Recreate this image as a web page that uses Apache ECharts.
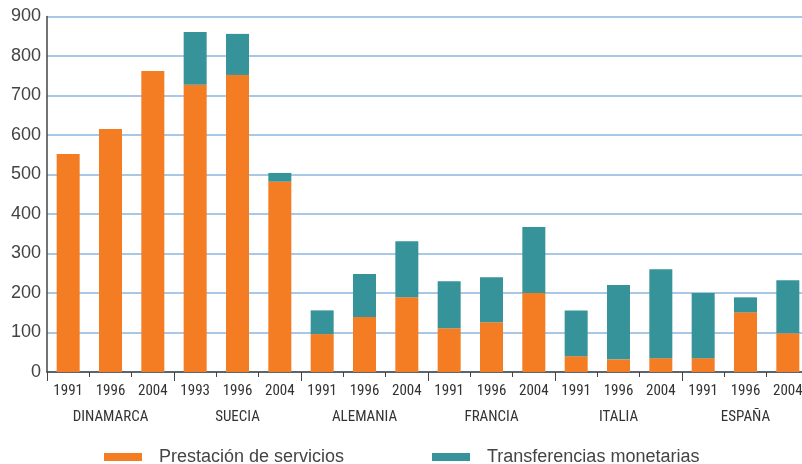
<!DOCTYPE html>
<html>
<head>
<meta charset="utf-8">
<script src="https://cdn.jsdelivr.net/npm/echarts@6/dist/echarts.min.js"></script>
<style>html,body{margin:0;padding:0;background:#fff;}#c{width:802px;height:464px;}</style>
</head>
<body>
<div id="c"></div>
<script>
var years = ['1991','1996','2004','1993','1996','2004','1991','1996','2004','1991','1996','2004','1991','1996','2004','1991','1996','2004'];
var countries = ['DINAMARCA','SUECIA','ALEMANIA','FRANCIA','ITALIA','ESPAÑA'];
var servicios = [552, 615, 762, 727, 752, 482, 96, 139, 189, 111, 126, 200, 40, 32, 35, 35, 151, 98];
var transferencias = [0, 0, 0, 134, 104, 22, 60, 109, 142, 119, 114, 167, 116, 188, 225, 165, 38, 134];
var yTicks = {min: 0, max: 900, interval: 100};
var seriesNames = ['Prestación de servicios', 'Transferencias monetarias'];

var narrow = "'Liberation Sans Narrow', 'Roboto Condensed', 'Liberation Sans', sans-serif";
var chart = echarts.init(document.getElementById('c'), null, {renderer: 'canvas'});
chart.setOption({
  animation: false,
  backgroundColor: '#ffffff',
  grid: {left: 47, right: -7, top: 16.5, bottom: 92, containLabel: false, outerBoundsMode: 'none'},
  legend: [
    {data: [seriesNames[0]], left: 104, top: 448, padding: 0, itemWidth: 38, itemHeight: 8, icon: 'rect',
     textStyle: {fontFamily: "'Liberation Sans', sans-serif", fontSize: 18, color: '#444', padding: [0,0,0,12]}},
    {data: [seriesNames[1]], left: 432, top: 448, padding: 0, itemWidth: 38, itemHeight: 8, icon: 'rect',
     textStyle: {fontFamily: "'Liberation Sans', sans-serif", fontSize: 18, color: '#444', padding: [0,0,0,12]}}
  ],
  xAxis: [
    {type: 'category', data: years, position: 'bottom',
     axisLine: {show: true, lineStyle: {color: '#444', width: 1.5}},
     axisTick: {show: true, length: 5, lineStyle: {color: '#444', width: 1}},
     axisLabel: {margin: 12, fontFamily: narrow, fontSize: 15, color: '#333', interval: 0},
     splitLine: {show: false}},
    {type: 'category', data: countries, position: 'bottom',
     axisLine: {show: false},
     axisTick: {show: true, length: 9, lineStyle: {color: '#444', width: 1}},
     axisLabel: {margin: 38, fontFamily: narrow, fontSize: 15, color: '#333', interval: 0},
     splitLine: {show: false}}
  ],
  yAxis: {type: 'value', min: yTicks.min, max: yTicks.max, interval: yTicks.interval,
    axisLine: {show: true, lineStyle: {color: '#444', width: 1.5}},
    axisTick: {show: false},
    axisLabel: {margin: 6, fontFamily: "'Liberation Sans', sans-serif", fontSize: 18, color: '#444'},
    splitLine: {show: true, lineStyle: {color: '#8db6dc', width: 1.5}}
  },
  series: [
    {name: seriesNames[0], type: 'bar', stack: 'total', xAxisIndex: 0, barWidth: 23, data: servicios,
     itemStyle: {color: '#f47c22'}},
    {name: seriesNames[1], type: 'bar', stack: 'total', xAxisIndex: 0, barWidth: 23, data: transferencias,
     itemStyle: {color: '#36939a'}}
  ]
});
</script>
</body>
</html>
